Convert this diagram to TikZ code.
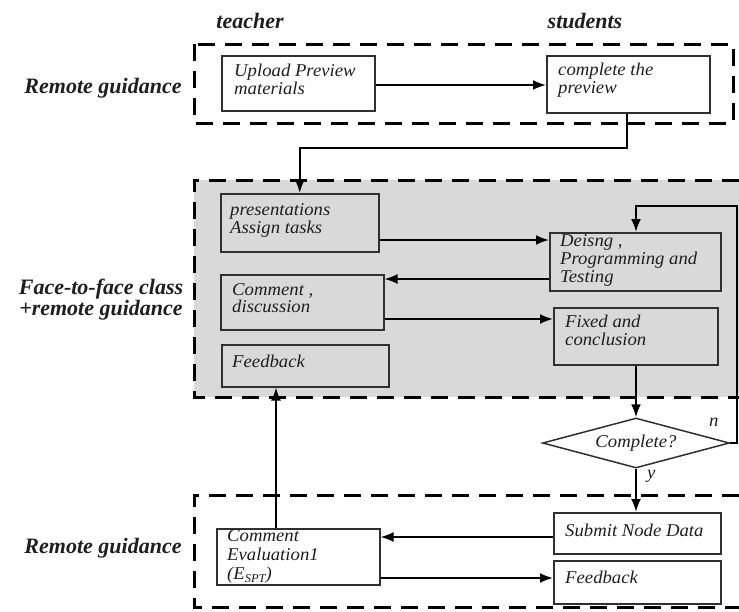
\documentclass[tikz,border=0pt]{standalone}
\usepackage{fontspec}
\setmainfont{Liberation Serif}
\newfontfamily\boxfamily[FakeStretch=1.04]{Liberation Serif}
\usetikzlibrary{arrows.meta,shapes.geometric}
\definecolor{edge}{HTML}{303030}
\definecolor{ink}{HTML}{1E1E1E}
\definecolor{panel}{HTML}{D9D9D9}
\tikzset{
  box/.style={draw=edge, line width=1.5pt, rectangle, inner sep=0pt, anchor=north west},
  txt/.style={inner sep=0pt, anchor=north west, align=left, text=ink,
    font=\boxfamily\itshape\fontsize{18}{18}\selectfont},
  head/.style={inner sep=0pt, align=center, text=ink,
    font=\bfseries\itshape\fontsize{22}{22}\selectfont},
  frame/.style={line width=3pt, dash pattern=on 17pt off 10pt, draw=black},
  conn/.style={line width=2pt, draw=black},
  arr/.style={conn, -{Latex[length=13pt,width=10pt]}},
}
\begin{document}
\begin{tikzpicture}[x=1pt,y=-1pt]
\useasboundingbox (0,0) rectangle (739,611);
% panels
\fill[panel] (194,180) rectangle (739,397);
\draw[frame] (194,44) rectangle (733,123);
\draw[frame] (739,180) -- (194,180) -- (194,397) -- (739,397);
\draw[frame] (739,495) -- (194,495) -- (194,607) -- (739,607);
% headings
\node[head] (hteacher) at (250,21) {teacher};
\node[head] (hstudents) at (585,21) {students};
\node[head] (hrg1) at (103,88) {Remote guidance};
\node[head, font=\bfseries\itshape\fontsize{22}{21}\selectfont] (hf2f) at (101,300) {Face-to-face class\\+remote guidance};
\node[head] (hrg2) at (103,548) {Remote guidance};
% boxes
\node[box, minimum width=153pt, minimum height=55pt] (upload) at (221,55) {};
\node[txt] (tupload) at (234,64) {Upload Preview\\materials};
\node[box, minimum width=163pt, minimum height=57pt] (complete) at (546,55) {};
\node[txt] (tcomplete) at (558,63) {complete the\\preview};
\node[box, minimum width=158pt, minimum height=58pt] (pres) at (220,193) {};
\node[txt] (tpres) at (230,203) {presentations\\Assign tasks};
\node[box, minimum width=163pt, minimum height=55pt] (comment) at (220,274) {};
\node[txt, font=\boxfamily\itshape\fontsize{18}{17}\selectfont] (tcomment) at (232,283) {Comment ,\\discussion};
\node[box, minimum width=167pt, minimum height=42pt] (fb1) at (221,344) {};
\node[txt] (tfb1) at (232,355) {Feedback};
\node[box, minimum width=171pt, minimum height=58pt] (deisng) at (549,232) {};
\node[txt] (tdeisng) at (560,234) {Deisng ,\\Programming and\\Testing};
\node[box, minimum width=164pt, minimum height=57pt] (fixed) at (553,307) {};
\node[txt] (tfixed) at (565,315) {Fixed and\\conclusion};
\node[draw=edge, line width=1.5pt, shape=diamond, aspect=3.74, minimum width=187pt, minimum height=50pt, inner sep=0pt, text=ink, font=\boxfamily\itshape\fontsize{18}{18}\selectfont] (dec) at (636,443) {Complete?};
\node[txt] (ln) at (709,418) {n};
\node[txt] (ly) at (647,470) {y};
\node[box, minimum width=163pt, minimum height=56pt] (evalc) at (216,528) {};
\node[txt, font=\boxfamily\itshape\fontsize{18}{19}\selectfont] (tevalc) at (227,529) {Comment\\Evaluation1\\(E\raisebox{-0.35ex}{\fontsize{12}{12}\selectfont SPT})};
\node[box, minimum width=167pt, minimum height=41pt] (submit) at (553,512) {};
\node[txt] (tsubmit) at (565,524) {Submit Node Data};
\node[box, minimum width=167pt, minimum height=43pt] (fb2) at (553,560) {};
\node[txt] (tfb2) at (565,571) {Feedback};
% connectors
\coordinate (c1) at (627,148);
\coordinate (c2) at (737,206);
\draw[arr] (upload.east |- 0,85) -- (complete.west |- 0,85);
\draw[arr] (complete.south -| c1) -- (c1) -| (pres.north);
\draw[arr] (pres.east |- 0,240) -- (deisng.west |- 0,240);
\draw[arr] (deisng.west |- 0,279) -- (comment.east |- 0,279);
\draw[arr] (comment.east |- 0,319) -- (fixed.west |- 0,319);
\draw[arr] (fixed.south -| dec.north) -- (dec.north);
\draw[arr] (dec.east) -| (c2) -| (dec.north |- deisng.north);
\draw[arr] (dec.south) -- (dec.south |- submit.north);
\draw[arr] (submit.west |- 0,537) -- (evalc.east |- 0,537);
\draw[arr] (evalc.east |- 0,578) -- (fb2.west |- 0,578);
\draw[arr] (evalc.north -| 276,0) -- (fb1.south -| 276,0);
\end{tikzpicture}
\end{document}
